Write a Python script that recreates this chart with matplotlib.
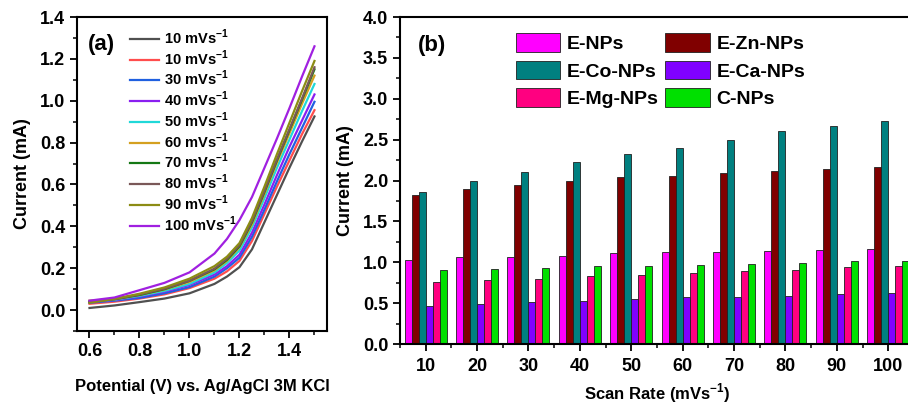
import numpy as np
import matplotlib.pyplot as plt
from matplotlib.ticker import MultipleLocator

plt.rcParams['font.family'] = ['Liberation Sans', 'DejaVu Sans']
plt.rcParams['font.weight'] = 'bold'
plt.rcParams['axes.labelweight'] = 'bold'
plt.rcParams['mathtext.fontset'] = 'custom'
plt.rcParams['mathtext.rm'] = 'Liberation Sans:bold'
plt.rcParams['mathtext.bf'] = 'Liberation Sans:bold'

# (a) LSV curves
potential = [0.6, 0.7, 0.8, 0.9, 1.0, 1.1, 1.15, 1.2, 1.25, 1.3, 1.35, 1.4, 1.45, 1.5]
i_10a = [0.010, 0.022, 0.038, 0.055, 0.080, 0.125, 0.160, 0.205, 0.290, 0.420, 0.550, 0.680, 0.805, 0.925]
i_10b = [0.030, 0.040, 0.055, 0.075, 0.105, 0.150, 0.185, 0.235, 0.330, 0.460, 0.590, 0.715, 0.840, 0.955]
i_30 = [0.035, 0.045, 0.058, 0.080, 0.110, 0.160, 0.200, 0.250, 0.350, 0.480, 0.615, 0.745, 0.870, 0.995]
i_40 = [0.040, 0.048, 0.065, 0.088, 0.120, 0.170, 0.210, 0.265, 0.370, 0.505, 0.645, 0.780, 0.905, 1.030]
i_50 = [0.040, 0.050, 0.068, 0.092, 0.125, 0.180, 0.225, 0.285, 0.395, 0.535, 0.680, 0.815, 0.950, 1.080]
i_60 = [0.045, 0.052, 0.072, 0.098, 0.135, 0.190, 0.235, 0.300, 0.410, 0.555, 0.705, 0.845, 0.985, 1.120]
i_70 = [0.040, 0.052, 0.072, 0.100, 0.140, 0.195, 0.240, 0.305, 0.420, 0.565, 0.715, 0.860, 1.005, 1.150]
i_80 = [0.038, 0.052, 0.074, 0.102, 0.140, 0.198, 0.245, 0.310, 0.425, 0.570, 0.720, 0.865, 1.010, 1.160]
i_90 = [0.035, 0.054, 0.078, 0.108, 0.150, 0.210, 0.255, 0.320, 0.440, 0.590, 0.745, 0.895, 1.045, 1.190]
i_100 = [0.045, 0.060, 0.095, 0.130, 0.180, 0.270, 0.340, 0.430, 0.540, 0.680, 0.820, 0.965, 1.115, 1.260]
curve_labels = ['10', '10', '30', '40', '50', '60', '70', '80', '90', '100']
curve_colors = ['#505050', '#ff4d4d', '#2060e0', '#8a1ff0', '#20d8d8',
                '#d4a020', '#147814', '#7a5858', '#8c8c14', '#a020e0']

# (b) current vs scan rate
scan_rate = [10, 20, 30, 40, 50, 60, 70, 80, 90, 100]
e_nps = [1.03, 1.06, 1.07, 1.08, 1.11, 1.12, 1.13, 1.14, 1.15, 1.16]
e_zn = [1.82, 1.90, 1.95, 1.99, 2.04, 2.06, 2.09, 2.12, 2.14, 2.16]
e_co = [1.86, 2.00, 2.10, 2.23, 2.32, 2.40, 2.49, 2.60, 2.67, 2.73]
e_ca = [0.47, 0.49, 0.51, 0.53, 0.55, 0.57, 0.58, 0.59, 0.61, 0.62]
e_mg = [0.76, 0.78, 0.80, 0.83, 0.85, 0.87, 0.89, 0.91, 0.94, 0.95]
c_nps = [0.90, 0.92, 0.93, 0.95, 0.96, 0.97, 0.98, 0.99, 1.01, 1.02]
bar_labels = ['E-NPs', 'E-Zn-NPs', 'E-Co-NPs', 'E-Ca-NPs', 'E-Mg-NPs', 'C-NPs']
bar_colors = ['#ff00ff', '#800000', '#008080', '#8000ff', '#ff0080', '#00e000']

fig = plt.figure(figsize=(9.08, 4.04), dpi=100)
ax1 = fig.add_axes([0.0848, 0.1807, 0.2753, 0.7772])
ax2 = fig.add_axes([0.4405, 0.1485, 0.566, 0.8094])

curves = [i_10a, i_10b, i_30, i_40, i_50, i_60, i_70, i_80, i_90, i_100]
for y, lab, col in zip(curves, curve_labels, curve_colors):
    ax1.plot(potential, y, color=col, lw=1.6, label=lab + r' mVs$^{-1}$')
ax1.set_xlim(0.55, 1.55)
ax1.set_ylim(-0.1, 1.4)
ax1.xaxis.set_major_locator(MultipleLocator(0.2))
ax1.xaxis.set_minor_locator(MultipleLocator(0.1))
ax1.yaxis.set_major_locator(MultipleLocator(0.2))
ax1.yaxis.set_minor_locator(MultipleLocator(0.1))
ax1.set_xlabel('Potential (V) vs. Ag/AgCl 3M KCl', fontsize=12, labelpad=14)
ax1.set_ylabel('Current (mA)', fontsize=13, labelpad=6)
ax1.text(0.045, 0.895, '(a)', transform=ax1.transAxes, fontsize=16, fontweight='bold')
ax1.legend(loc='upper left', bbox_to_anchor=(0.19, 0.985), frameon=False,
           fontsize=10.5, handlelength=2.0, handletextpad=0.3, labelspacing=0.1,
           borderaxespad=0)

w = 1.36
series = [e_nps, e_zn, e_co, e_ca, e_mg, c_nps]
x = np.array(scan_rate, dtype=float)
handles = []
for k, (vals, lab, col) in enumerate(zip(series, bar_labels, bar_colors)):
    h = ax2.bar(x + (k - 2.5) * w, vals, width=w, color=col, edgecolor='#202020',
                linewidth=0.6, label=lab)
    handles.append(h)
ax2.set_xlim(5, 105)
ax2.set_ylim(0, 4.0)
ax2.set_xticks(scan_rate)
ax2.xaxis.set_minor_locator(MultipleLocator(5))
ax2.yaxis.set_major_locator(MultipleLocator(0.5))
ax2.yaxis.set_minor_locator(MultipleLocator(0.25))
ax2.set_xlabel(r'Scan Rate (mVs$^{-1}$)', fontsize=12, va='center')
ax2.xaxis.set_label_coords(0.5, -0.15)
ax2.set_ylabel('Current (mA)', fontsize=13, labelpad=6)
ax2.text(0.035, 0.895, '(b)', transform=ax2.transAxes, fontsize=16, fontweight='bold')
order = [0, 2, 4, 1, 3, 5]
ax2.legend([handles[i] for i in order], [bar_labels[i] for i in order],
           ncol=2, loc='upper left', bbox_to_anchor=(0.21, 0.975), frameon=False,
           fontsize=14, handlelength=2.3, handleheight=1.1, handletextpad=0.35,
           labelspacing=0.4, columnspacing=0.3, borderaxespad=0)

for ax in (ax1, ax2):
    for s in ax.spines.values():
        s.set_linewidth(1.5)
    ax.tick_params(which='major', direction='out', length=5, width=1.3, labelsize=13,
                   top=False, right=False)
    ax.tick_params(which='minor', direction='out', length=3, width=1.1,
                   top=False, right=False)
    for t in ax.get_xticklabels() + ax.get_yticklabels():
        t.set_fontweight('bold')
ax2.tick_params(axis='x', which='major', pad=5)

fig.savefig('out.png', dpi=100)
